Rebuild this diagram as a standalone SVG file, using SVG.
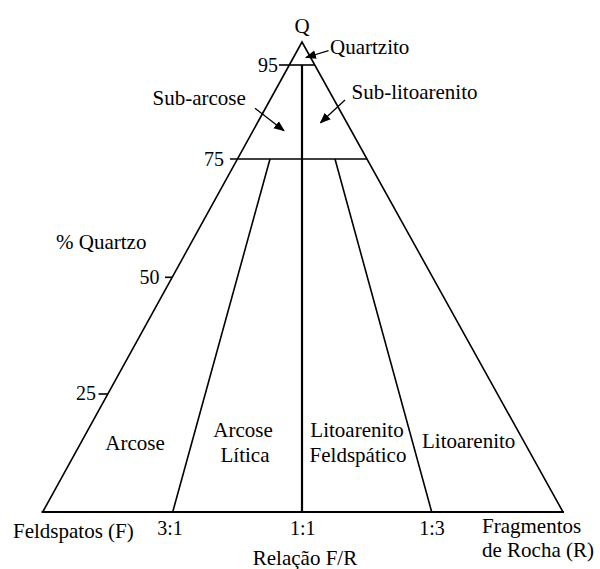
<svg xmlns="http://www.w3.org/2000/svg" width="600" height="569" viewBox="0 0 600 569">
<style>
text{font-family:"Liberation Serif","Times New Roman",serif;font-size:21px;fill:#000}
.num{font-size:20px}
.mid{text-anchor:middle}
.end{text-anchor:end}
.ln{stroke:#000;stroke-width:1.6;fill:none}
.th{stroke:#000;stroke-width:2.2;fill:none}
.ar{stroke:#000;stroke-width:1.3;fill:none;marker-end:url(#ah)}
</style>
<defs>
<marker id="ah" viewBox="0 0 10 10" refX="9" refY="5" markerWidth="11" markerHeight="11" markerUnits="userSpaceOnUse" orient="auto">
<path d="M0,1 L10,5 L0,9 Z" fill="#000"/>
</marker>
</defs>
<rect width="600" height="569" fill="#fff"/>
<g id="connectors">
<path class="ln" d="M42.7,512 L302,42 L563,512"/>
<line class="th" x1="41.5" y1="512" x2="564" y2="512"/>
<line class="th" x1="302" y1="65" x2="302" y2="512"/>
<line class="ln" x1="289" y1="65" x2="315" y2="65"/>
<line class="ln" x1="230" y1="159" x2="367" y2="159"/>
<line class="ln" x1="270" y1="159" x2="172.7" y2="512"/>
<line class="ln" x1="335" y1="159" x2="431.7" y2="512"/>
<line class="ln" x1="279" y1="65" x2="289" y2="65"/>
<line class="ln" x1="165" y1="277.3" x2="172" y2="277.3"/>
<line class="ln" x1="98.5" y1="394" x2="107.8" y2="394"/>
<line class="ar" x1="328.5" y1="50.7" x2="306" y2="57.5"/>
<line class="ar" x1="255" y1="108.3" x2="284" y2="130.7"/>
<line class="ar" x1="345" y1="100" x2="320.5" y2="122.8"/>
</g>
<g id="vertex-q"><text class="mid" x="302" y="33">Q</text></g>
<g id="quartzito"><text x="330" y="53.5">Quartzito</text></g>
<g id="sub-arcose"><text x="152.5" y="104.5">Sub-arcose</text></g>
<g id="sub-litoarenito"><text x="351.5" y="98.5">Sub-litoarenito</text></g>
<g id="scale">
<text class="num end" x="278" y="72">95</text>
<text class="num end" x="224" y="166">75</text>
<text class="num end" x="159.5" y="283.5">50</text>
<text class="num end" x="96" y="400">25</text>
<text x="56" y="248.5">% Quartzo</text>
</g>
<g id="arcose"><text class="mid" x="135" y="450">Arcose</text></g>
<g id="arcose-litica"><text class="mid" x="243" y="436.7">Arcose</text><text class="mid" x="245" y="461.7">Lítica</text></g>
<g id="litoarenito-feldspatico"><text class="mid" x="357" y="436.7">Litoarenito</text><text class="mid" x="358" y="461.7">Feldspático</text></g>
<g id="litoarenito"><text class="mid" x="468.7" y="448.3">Litoarenito</text></g>
<g id="vertex-f"><text x="13" y="538">Feldspatos (F)</text></g>
<g id="vertex-r"><text x="482" y="533">Fragmentos</text><text x="482" y="556.5">de Rocha (R)</text></g>
<g id="ratios">
<text class="num mid" x="170" y="535">3:1</text>
<text class="num mid" x="302.7" y="535">1:1</text>
<text class="num mid" x="432" y="535">1:3</text>
<text class="mid" x="305" y="565">Relação F/R</text>
</g>
</svg>
